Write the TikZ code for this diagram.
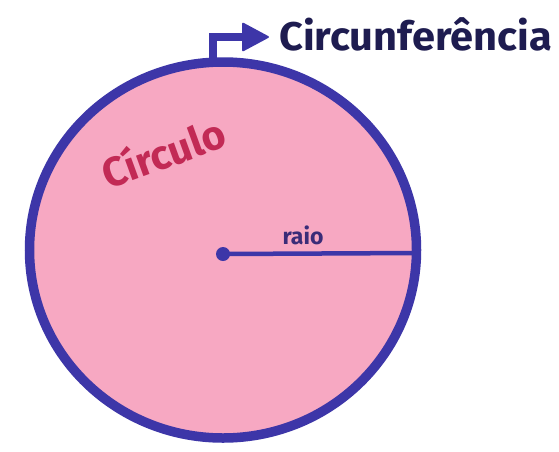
\documentclass[tikz,border=0pt]{standalone}
\usepackage{fontspec}
\setmainfont{Fira Sans}
\usetikzlibrary{shapes.geometric}
\definecolor{ringblue}{HTML}{3D36A8}
\definecolor{diskpink}{HTML}{F7A8C2}
\definecolor{navytext}{HTML}{1E1C50}
\definecolor{crimson}{HTML}{C22A55}
\definecolor{raiotext}{HTML}{3A2C78}
\begin{document}
\begin{tikzpicture}[x=1pt,y=-1pt,
  ring/.style={draw=ringblue,fill=diskpink,line width=9.5pt},
  pointer/.style={draw=ringblue,line width=8pt},
  lbl/.style={inner sep=0pt,font=\bfseries}]
\useasboundingbox (0,0) rectangle (559,451);
\fill[white] (0,0) rectangle (559,451);
% circle (slightly oval)
\draw[ring] (223,250) ellipse [x radius=193.5pt, y radius=188pt];
\coordinate (top) at (213,62);
\coordinate (rim) at (417,253);
\node[circle,fill=ringblue,minimum size=14pt,inner sep=0pt] (ctr) at (223,254) {};
% radius
\draw[ringblue,line width=4.5pt] (ctr.center) -- (rim);
\node[lbl,text=raiotext,font=\bfseries\fontsize{23}{23}\selectfont,anchor=base] (raio) at (303,244) {raio};
% label circle
\node[lbl,text=crimson,rotate=20,font=\fontseries{sb}\selectfont\fontsize{41}{41}\selectfont] (circulo) at (163,152) {Círculo};
% pointer
\node[lbl,text=navytext,anchor=base west,font=\bfseries\fontsize{40}{40}\selectfont,xscale=1.04] (circ) at (279,50) {Circunferência};
\draw[pointer] (top) -- (213,37) -- (244,37);
\fill[ringblue,rounded corners=2pt] (242,22) -- (270,37) -- (242,52) -- cycle;
\end{tikzpicture}
\end{document}
